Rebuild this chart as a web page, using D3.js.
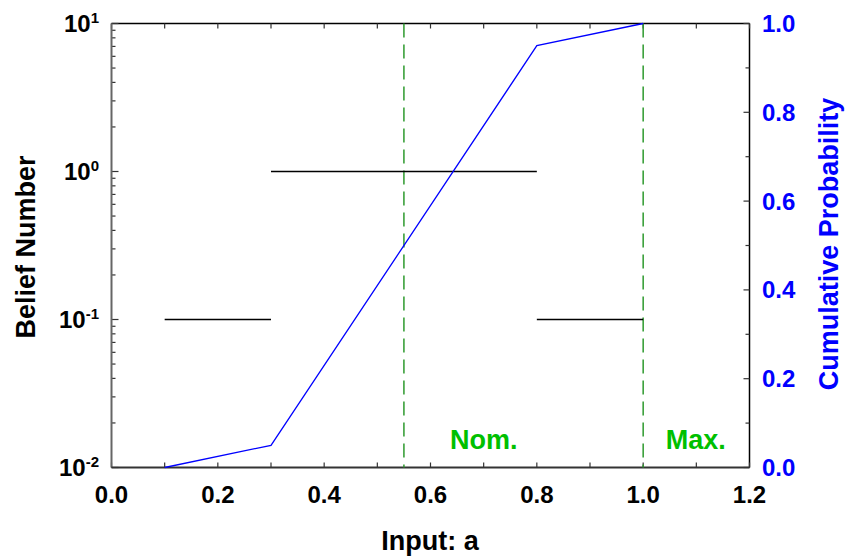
<!DOCTYPE html>
<html><head><meta charset="utf-8">
<script src="https://cdn.jsdelivr.net/npm/d3@7"></script>
<style>body{margin:0;background:#fff}svg{display:block}text{font-family:"Liberation Sans",Arial,sans-serif;font-weight:bold}</style>
</head><body><svg id="c" width="848" height="559"></svg>
<script>
// Belief number segments [x0, x1, value]
const beliefX0 = [0.1, 0.3, 0.8];
const beliefX1 = [0.3, 0.8, 1.0];
const beliefVal = [0.1, 1, 0.1];
// Cumulative probability curve
const cdfX = [0.1, 0.3, 0.8, 1.0];
const cdfY = [0.0, 0.05, 0.95, 1.0];
// Marker lines
const markX = [0.55, 1.0];
const markLabel = ["Nom.", "Max."];
const markLabelX = [0.70, 1.099];
const xTicks = [0.0, 0.2, 0.4, 0.6, 0.8, 1.0, 1.2];
const yExps = [-2, -1, 0, 1];
const rTicks = [0.0, 0.2, 0.4, 0.6, 0.8, 1.0];

const svg = d3.select("#c");
const L = 111.5, R = 749.5, T = 23.5, B = 467.5;
const x = d3.scaleLinear().domain([0, 1.2]).range([L, R]);
const y = d3.scaleLog().domain([0.01, 10]).range([B, T]);
const yr = d3.scaleLinear().domain([0, 1]).range([B, T]);

// frame
svg.append("line").attr("x1", L).attr("x2", R).attr("y1", T).attr("y2", T).attr("stroke", "#000").attr("stroke-width", 1.5);
svg.append("line").attr("x1", R).attr("x2", R).attr("y1", T).attr("y2", B).attr("stroke", "#000").attr("stroke-width", 1.5);

// x ticks bottom & top
const xMinor = d3.range(0, 13).map(i => i / 10);
xMinor.forEach((v, i) => {
  const len = 5;
  svg.append("line").attr("x1", x(v)).attr("x2", x(v)).attr("y1", B).attr("y2", B - len).attr("stroke", "#333").attr("stroke-width", 1.2);
  svg.append("line").attr("x1", x(v)).attr("x2", x(v)).attr("y1", T).attr("y2", T + len).attr("stroke", "#333").attr("stroke-width", 1.2);
});
// left log ticks
yExps.forEach((e, i) => {
  const base = Math.pow(10, e);
  svg.append("line").attr("x1", L).attr("x2", L + 7).attr("y1", y(base)).attr("y2", y(base)).attr("stroke", "#333").attr("stroke-width", 1.2);
  if (e < 1) for (let k = 2; k <= 9; k++) {
    const v = base * k;
    svg.append("line").attr("x1", L).attr("x2", L + 4).attr("y1", y(v)).attr("y2", y(v)).attr("stroke", "#333").attr("stroke-width", 1.2);
  }
});
// right ticks
d3.range(0, 11).forEach(i => {
  const v = i / 10;
  const len = (i % 2 === 0) ? 6 : 4;
  svg.append("line").attr("x1", R).attr("x2", R - len).attr("y1", yr(v)).attr("y2", yr(v)).attr("stroke", "#333").attr("stroke-width", 1.2);
});
// axes lines left & bottom
svg.append("line").attr("x1", L).attr("x2", L).attr("y1", T).attr("y2", B).attr("stroke", "#666").attr("stroke-width", 2);
svg.append("line").attr("x1", L).attr("x2", R).attr("y1", B).attr("y2", B).attr("stroke", "#333").attr("stroke-width", 1.8);

// tick labels
xTicks.forEach(v => {
  svg.append("text").attr("x", x(v)).attr("y", 503).attr("text-anchor", "middle").attr("font-size", 24).attr("fill", "#000").text(v.toFixed(1));
});
yExps.forEach(e => {
  const t = svg.append("text").attr("x", 99).attr("y", y(Math.pow(10, e)) + 8.5).attr("text-anchor", "end").attr("font-size", 24).attr("fill", "#000");
  t.append("tspan").text("10");
  t.append("tspan").attr("font-size", 15).attr("dy", -9).text(String(e));
});
rTicks.forEach(v => {
  svg.append("text").attr("x", 762).attr("y", yr(v) + 8.5).attr("text-anchor", "start").attr("font-size", 24).attr("fill", "#0000ff").text(v.toFixed(1));
});

// titles
svg.append("text").attr("x", 430).attr("y", 550).attr("text-anchor", "middle").attr("font-size", 27).attr("fill", "#000").text("Input: a");
svg.append("text").attr("transform", "translate(35,247) rotate(-90)").attr("text-anchor", "middle").attr("font-size", 27).attr("fill", "#000").text("Belief Number");
svg.append("text").attr("transform", "translate(838,244) rotate(-90)").attr("text-anchor", "middle").attr("font-size", 27).attr("fill", "#0000ff").text("Cumulative Probability");

// marker lines
markX.forEach((v, i) => {
  svg.append("line").attr("x1", x(v)).attr("x2", x(v)).attr("y1", T).attr("y2", B).attr("stroke", "#2e9a2e").attr("stroke-width", 1.5).attr("stroke-dasharray", "14,7");
  svg.append("text").attr("x", x(markLabelX[i])).attr("y", 449).attr("text-anchor", "middle").attr("font-size", 27).attr("fill", "#00c000").text(markLabel[i]);
});

// belief segments
beliefVal.forEach((v, i) => {
  svg.append("line").attr("x1", x(beliefX0[i])).attr("x2", x(beliefX1[i])).attr("y1", y(v)).attr("y2", y(v)).attr("stroke", "#000").attr("stroke-width", 1.5);
});

// cdf
const line = d3.line().x(d => x(d[0])).y(d => yr(d[1]));
svg.append("path").datum(cdfX.map((v, i) => [v, cdfY[i]])).attr("d", line).attr("fill", "none").attr("stroke", "#0000ff").attr("stroke-width", 1.3);
</script></body></html>
